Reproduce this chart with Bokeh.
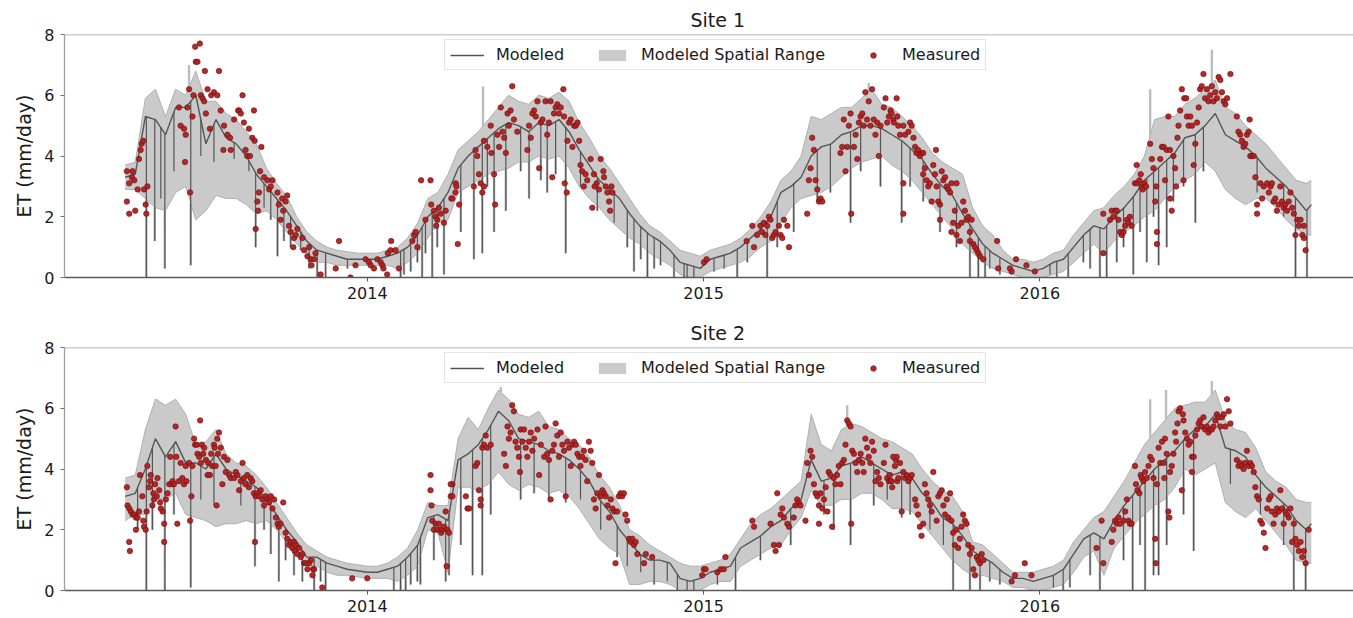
import numpy as np
from datetime import datetime, timedelta
from bokeh.plotting import figure
from bokeh.layouts import column
from bokeh.models import (Range1d, FixedTicker, DatetimeTickFormatter, Span,
                          Legend, LegendItem)
from bokeh.embed import file_html
from bokeh.resources import INLINE

# ---------------- data (decimal years / ET in mm/day) ----------------
X_START = 2013.0996
X_END = 2016.930
year_ticks = [2014, 2015, 2016]
y_ticks = [0, 2, 4, 6, 8]
titles = ["Site 1", "Site 2"]

tg = [2013.28, 2013.31, 2013.34, 2013.37, 2013.40, 2013.43, 2013.46, 2013.49, 2013.52, 2013.55,
      2013.58, 2013.61, 2013.64, 2013.67, 2013.70, 2013.73, 2013.76, 2013.79, 2013.82, 2013.85,
      2013.88, 2013.91, 2013.94, 2013.97,
      2014.00, 2014.03, 2014.06, 2014.09, 2014.12, 2014.15, 2014.18, 2014.21, 2014.24, 2014.27,
      2014.30, 2014.33, 2014.36, 2014.39, 2014.42, 2014.45, 2014.48, 2014.51, 2014.54, 2014.57,
      2014.60, 2014.63, 2014.66, 2014.69, 2014.72, 2014.75, 2014.78, 2014.81, 2014.84, 2014.87,
      2014.90, 2014.93, 2014.96, 2014.99,
      2015.02, 2015.05, 2015.08, 2015.11, 2015.14, 2015.17, 2015.20, 2015.23, 2015.26, 2015.29,
      2015.32, 2015.35, 2015.38, 2015.41, 2015.44, 2015.47, 2015.50, 2015.53, 2015.56, 2015.59,
      2015.62, 2015.65, 2015.68, 2015.71, 2015.74, 2015.77, 2015.80, 2015.83, 2015.86, 2015.89,
      2015.92, 2015.95, 2015.98,
      2016.01, 2016.04, 2016.07, 2016.10, 2016.13, 2016.16, 2016.19, 2016.22, 2016.25, 2016.28,
      2016.31, 2016.34, 2016.37, 2016.40, 2016.43, 2016.46, 2016.49, 2016.52, 2016.55, 2016.58,
      2016.61, 2016.64, 2016.67, 2016.70, 2016.73, 2016.76, 2016.79, 2016.805]

# Site 1 modeled, spatial range low/high
mod1 = [3.3, 3.4, 5.3, 5.2, 4.7, 5.6, 5.6, 6.0, 4.4, 5.2, 4.6, 4.4, 4.0, 3.4, 3.0, 2.6, 2.2, 1.7, 1.2, 0.9, 0.8, 0.7, 0.6, 0.6,
        0.6, 0.6, 0.7, 0.8, 1.0, 1.4, 2.0, 2.3, 2.8, 3.6, 4.0, 4.3, 4.6, 4.9, 5.1, 5.0, 4.8, 5.1, 5.0, 5.2, 4.8, 4.2, 3.7, 3.2, 2.9, 2.6, 2.1, 1.7, 1.4, 1.2, 0.9, 0.5, 0.4, 0.3,
        0.6, 0.7, 0.8, 1.0, 1.3, 1.6, 2.0, 2.8, 3.0, 3.3, 4.0, 4.3, 4.4, 4.7, 4.8, 5.0, 5.0, 4.9, 4.7, 4.5, 4.2, 3.9, 3.4, 3.0, 2.7, 2.1, 1.6, 1.1, 0.8, 0.6, 0.4, 0.3, 0.2,
        0.3, 0.5, 0.6, 1.0, 1.4, 1.7, 1.6, 2.0, 2.3, 2.7, 3.2, 3.5, 3.8, 4.1, 4.6, 4.7, 5.0, 5.4, 4.7, 4.5, 4.3, 4.0, 3.6, 3.3, 3.0, 2.6, 2.2, 2.4]
low1 = [2.9, 2.9, 2.6, 2.3, 2.2, 2.8, 3.0, 1.9, 2.2, 2.7, 2.6, 2.6, 2.4, 2.1, 2.2, 1.9, 1.5, 1.1, 0.8, 0.5, 0.5, 0.4, 0.4, 0.4,
        0.4, 0.4, 0.4, 0.3, 0.5, 0.8, 1.3, 1.8, 1.9, 2.8, 3.0, 3.2, 3.4, 3.5, 3.6, 3.8, 3.8, 4.0, 3.9, 4.0, 3.6, 3.0, 2.6, 2.3, 1.9, 1.6, 1.3, 1.1, 0.8, 0.6, 0.4, 0.1, 0.0, 0.0,
        0.2, 0.3, 0.4, 0.5, 0.7, 1.0, 1.2, 1.8, 2.3, 2.6, 2.7, 2.8, 3.0, 3.3, 3.6, 3.8, 3.9, 4.0, 3.7, 3.5, 3.2, 2.8, 2.4, 2.0, 1.6, 1.1, 0.8, 0.5, 0.3, 0.2, 0.1, 0.0, 0.0,
        0.0, 0.1, 0.2, 0.5, 0.8, 1.1, 0.8, 1.2, 1.5, 1.7, 2.0, 2.2, 2.6, 3.0, 3.2, 3.4, 3.8, 3.5, 2.9, 2.6, 2.4, 2.6, 2.6, 2.3, 1.9, 1.6, 1.4, 1.4]
high1 = [3.7, 3.8, 5.9, 6.2, 5.3, 6.2, 6.0, 6.8, 5.8, 5.8, 5.4, 5.2, 4.8, 4.4, 3.6, 3.1, 2.7, 2.0, 1.5, 1.2, 1.0, 0.9, 0.85, 0.8,
         0.8, 0.8, 0.9, 1.0, 1.3, 1.8, 2.6, 2.8, 3.4, 4.2, 4.5, 4.8, 5.2, 5.6, 6.0, 5.8, 5.7, 6.0, 5.9, 6.1, 5.8, 5.1, 4.6, 4.0, 3.6, 3.1, 2.6, 2.1, 1.7, 1.5, 1.2, 0.9, 0.8, 0.7,
         0.9, 1.0, 1.1, 1.3, 1.6, 2.0, 2.5, 3.2, 3.5, 4.0, 5.3, 5.2, 5.4, 5.6, 5.6, 5.9, 6.2, 5.7, 5.6, 5.3, 5.0, 4.6, 4.1, 3.8, 3.6, 3.4, 2.3, 1.7, 1.4, 0.9, 0.6, 0.6, 0.5,
         0.6, 0.8, 0.9, 1.4, 1.8, 2.2, 2.3, 2.7, 3.0, 3.4, 4.0, 5.2, 5.3, 5.3, 5.7, 5.9, 6.2, 6.5, 5.6, 5.4, 5.0, 4.7, 4.4, 4.0, 3.6, 3.2, 3.1, 3.2]

# Site 2 modeled, spatial range low/high
mod2 = [3.1, 3.2, 4.0, 5.0, 4.4, 4.9, 4.2, 4.2, 4.0, 4.5, 4.0, 3.8, 3.6, 3.4, 3.0, 2.5, 2.0, 1.6, 1.1, 1.1, 0.9, 0.8, 0.7, 0.65,
        0.6, 0.6, 0.7, 0.8, 1.1, 1.5, 2.4, 2.5, 2.3, 4.3, 4.5, 4.8, 5.3, 5.9, 5.6, 5.0, 4.9, 4.8, 4.6, 4.5, 4.3, 4.0, 3.6, 3.0, 2.6, 2.0, 1.6, 1.2, 1.0, 1.0, 0.9, 0.4, 0.3, 0.4,
        0.6, 0.7, 0.8, 1.4, 1.6, 1.8, 2.1, 2.3, 2.7, 3.0, 4.3, 3.6, 3.7, 4.1, 4.2, 4.4, 4.2, 4.0, 3.8, 3.9, 3.7, 3.2, 2.9, 2.4, 2.2, 1.8, 1.3, 1.1, 0.9, 0.6, 0.4, 0.4, 0.3,
        0.4, 0.5, 0.7, 1.2, 1.7, 1.9, 1.7, 2.3, 2.8, 3.2, 3.6, 4.0, 4.3, 4.6, 5.0, 5.3, 5.4, 5.8, 4.7, 4.6, 4.4, 3.8, 3.4, 3.1, 2.8, 2.3, 2.0, 2.2]
low2 = [2.3, 2.5, 2.5, 3.0, 3.0, 3.2, 2.5, 2.4, 2.3, 2.1, 2.2, 2.2, 2.3, 2.2, 2.3, 2.0, 1.6, 1.2, 0.8, 0.8, 0.6, 0.5, 0.5, 0.45,
        0.4, 0.4, 0.4, 0.3, 0.5, 0.8, 2.0, 1.9, 0.6, 3.4, 3.4, 3.3, 3.5, 3.9, 3.5, 3.3, 3.5, 3.4, 3.2, 3.3, 3.1, 2.7, 2.2, 1.7, 1.4, 1.2, 0.2, 0.2, 0.3, 0.3, 0.2, 0.0, 0.0, 0.0,
        0.2, 0.3, 0.3, 0.8, 1.0, 1.2, 1.4, 1.5, 2.0, 2.4, 3.3, 2.8, 2.8, 3.0, 3.0, 3.2, 3.2, 3.0, 2.7, 2.7, 2.6, 2.2, 1.8, 1.4, 1.0, 0.7, 0.5, 0.5, 0.4, 0.3, 0.1, 0.1, 0.0,
        0.0, 0.1, 0.2, 0.6, 1.1, 1.3, 0.5, 1.4, 1.8, 2.2, 2.5, 2.8, 3.0, 3.4, 4.0, 3.8, 4.0, 4.2, 2.9, 2.6, 2.4, 2.7, 2.3, 1.9, 1.5, 1.0, 0.9, 0.9]
high2 = [3.7, 3.8, 5.3, 6.3, 6.1, 6.3, 5.8, 4.8, 4.9, 5.3, 4.5, 4.2, 4.1, 3.8, 3.4, 2.9, 2.4, 1.9, 1.5, 1.3, 1.1, 1.0, 0.9, 0.85,
         0.8, 0.8, 0.9, 1.1, 1.4, 2.0, 2.9, 2.8, 2.8, 5.0, 5.7, 5.3, 6.0, 6.6, 6.3, 5.8, 5.7, 5.9, 5.4, 5.3, 5.0, 4.8, 4.4, 3.8, 3.4, 2.8, 2.0, 1.8, 1.5, 1.3, 1.1, 0.9, 0.8, 0.8,
         0.9, 1.0, 1.2, 1.7, 2.2, 2.5, 2.7, 3.0, 3.3, 3.6, 5.8, 4.8, 4.6, 5.3, 5.5, 5.4, 5.2, 5.0, 4.9, 4.7, 4.5, 4.0, 3.6, 3.3, 3.1, 2.6, 1.6, 1.5, 1.2, 0.9, 0.6, 0.6, 0.6,
         0.7, 0.8, 1.0, 1.6, 2.0, 2.4, 2.6, 3.1, 3.6, 4.2, 4.8, 5.2, 5.6, 6.0, 6.1, 6.2, 6.2, 6.6, 5.6, 5.3, 5.2, 4.7, 3.9, 3.6, 3.4, 3.0, 2.9, 2.9]

# short daily dips of the modeled series (date, minimum value)
dip1_t = [2013.343, 2013.368, 2013.398, 2013.475, 2013.668, 2013.733, 2013.851, 2013.876, 2014.099, 2014.109,
          2014.163, 2014.193, 2014.228, 2014.317, 2014.342, 2014.412, 2014.481, 2014.535, 2014.590, 2014.793,
          2014.833, 2014.912, 2014.942, 2014.971, 2015.100, 2015.189, 2015.437, 2015.589, 2015.792, 2015.817,
          2015.837, 2016.084, 2016.178, 2016.198, 2016.277, 2016.317, 2016.352, 2016.461, 2016.758, 2016.792,
          2013.386, 2013.425, 2013.505, 2013.544, 2013.604, 2013.648, 2013.693, 2013.713, 2013.752, 2013.772,
          2013.802, 2013.827, 2013.941, 2014.129, 2014.149, 2014.173, 2014.208,
          2014.278, 2014.357, 2014.377, 2014.456, 2014.516, 2014.560, 2014.634, 2014.684, 2014.734, 2014.773,
          2014.813, 2014.853, 2014.872, 2014.951, 2015.031, 2015.061, 2015.130, 2015.219, 2015.268, 2015.338,
          2015.377, 2015.467, 2015.526,
          2015.614, 2015.653, 2015.703, 2015.752, 2015.851, 2015.881, 2016.030, 2016.050, 2016.129, 2016.149,
          2016.228, 2016.248, 2016.297, 2016.337, 2016.376, 2016.396, 2016.426, 2016.485, 2016.644, 2016.723]
dip1_v = [0.0, 1.2, 0.3, 0.4, 1.0, 0.7, 0.0, 0.0, 0.0, 0.1,
          0.0, 0.0, 0.1, 0.6, 0.8, 2.2, 2.6, 2.8, 0.8, 0.2,
          0.0, 0.0, 0.0, 0.0, 0.0, 0.0, 1.8, 1.8, 0.0, 0.0,
          0.0, 0.0, 0.0, 0.0, 0.1, 0.5, 0.4, 1.8, 0.0, 0.0,
          2.6, 3.5, 4.0, 3.8, 3.9, 3.5, 2.3, 1.9, 1.2, 1.0,
          0.9, 0.3, 0.3, 0.2, 0.5, 0.8, 1.0,
          1.5, 3.0, 1.5, 3.5, 3.2, 3.4, 3.0, 2.2, 1.8, 1.0,
          0.6, 0.3, 0.4, 0.0, 0.2, 0.3, 0.5, 1.0, 1.5, 2.5,
          2.8, 3.5, 3.0,
          3.0, 2.5, 1.5, 1.0, 0.3, 0.1, 0.1, 0.0, 0.5, 0.3,
          0.5, 1.0, 1.5, 2.0, 1.0, 2.5, 3.0, 3.5, 2.8, 2.0]
dip2_t = [2013.343, 2013.398, 2013.475, 2013.666, 2013.737, 2013.842, 2013.876, 2014.099, 2014.114, 2014.149,
          2014.233, 2014.313, 2014.342, 2014.540, 2014.590, 2014.743, 2014.922, 2014.951, 2015.095, 2015.437,
          2015.589, 2015.742, 2015.792, 2015.822, 2016.069, 2016.178, 2016.275, 2016.312, 2016.337, 2016.352,
          2016.456, 2016.753, 2016.788,
          2013.317, 2013.361, 2013.425, 2013.505, 2013.544, 2013.624, 2013.693, 2013.713, 2013.757, 2013.782,
          2013.807, 2013.861, 2014.079, 2014.129, 2014.158, 2014.198, 2014.243,
          2014.278, 2014.367, 2014.456, 2014.496, 2014.634, 2014.694, 2014.773, 2014.813, 2014.853, 2014.892,
          2014.971, 2015.041, 2015.169, 2015.259, 2015.358, 2015.387, 2015.506, 2015.546,
          2015.614, 2015.673, 2015.713, 2015.851, 2015.881, 2016.040, 2016.089, 2016.149, 2016.248, 2016.297,
          2016.376, 2016.426, 2016.565, 2016.654, 2016.723]
dip2_v = [0.0, 0.0, 0.1, 0.8, 0.3, 0.0, 0.0, 0.0, 0.0, 0.3,
          0.3, 0.5, 0.5, 3.0, 2.9, 1.1, 0.0, 0.0, 0.0, 1.5,
          2.4, 0.0, 0.0, 0.0, 0.0, 0.0, 0.0, 0.0, 0.5, 0.5,
          1.3, 0.0, 0.0,
          2.0, 2.0, 2.5, 3.0, 2.8, 2.8, 2.0, 1.2, 1.0, 0.5,
          0.3, 0.3, 0.0, 0.2, 0.2, 1.0, 0.5,
          1.5, 2.5, 3.0, 3.2, 3.0, 2.0, 0.8, 0.6, 0.2, 0.3,
          0.0, 0.2, 1.0, 1.5, 2.5, 2.0, 2.8, 3.0,
          2.5, 2.0, 1.5, 0.3, 0.2, 0.1, 0.1, 0.5, 1.0, 1.5,
          1.5, 2.5, 3.5, 2.5, 1.5]
# short peaks of the spatial range upper edge
peak1_t = [2013.470, 2014.344, 2015.491, 2016.327, 2016.510]
peak1_v = [7.0, 6.3, 6.4, 6.2, 7.5]
peak2_t = [2013.375, 2014.397, 2015.427, 2016.327, 2016.374, 2016.510]
peak2_v = [6.3, 6.7, 6.1, 6.3, 6.6, 6.9]

# Measured, site 1
meas1_t = [2013.285, 2013.285, 2013.292, 2013.292, 2013.300, 2013.302, 2013.307, 2013.310, 2013.317, 2013.321, 2013.326, 2013.329, 2013.334, 2013.336, 2013.341, 2013.343, 2013.346,
           2013.440, 2013.445, 2013.455, 2013.458, 2013.460, 2013.465, 2013.470, 2013.473, 2013.480, 2013.483, 2013.488, 2013.490, 2013.495, 2013.502, 2013.505, 2013.510, 2013.515, 2013.517, 2013.520, 2013.525,
           2013.532, 2013.536, 2013.544, 2013.554, 2013.559, 2013.564, 2013.572, 2013.574, 2013.584, 2013.592, 2013.594, 2013.604, 2013.616, 2013.619, 2013.624, 2013.629, 2013.633, 2013.638, 2013.643, 2013.648,
           2013.651, 2013.658, 2013.663, 2013.665, 2013.668, 2013.673, 2013.675, 2013.678, 2013.681, 2013.685, 2013.693, 2013.703, 2013.708, 2013.713, 2013.718, 2013.733, 2013.737, 2013.742, 2013.747, 2013.750,
           2013.757, 2013.762, 2013.767, 2013.772, 2013.780, 2013.782, 2013.787, 2013.792, 2013.807, 2013.812, 2013.822, 2013.827, 2013.832, 2013.834, 2013.842, 2013.846, 2013.861, 2013.906, 2013.916, 2013.950, 2013.965, 2013.995,
           2014.005, 2014.010, 2014.020, 2014.030, 2014.040, 2014.045, 2014.048, 2014.059, 2014.061, 2014.069, 2014.071, 2014.084, 2014.094, 2014.134, 2014.139, 2014.144, 2014.149, 2014.160, 2014.173, 2014.188,
           2014.190, 2014.198, 2014.203, 2014.205, 2014.208, 2014.213, 2014.218, 2014.228, 2014.233, 2014.250, 2014.253, 2014.262, 2014.263, 2014.265, 2014.269, 2014.273,
           2014.317, 2014.322, 2014.327, 2014.332, 2014.337, 2014.342, 2014.347, 2014.347, 2014.357, 2014.367, 2014.369, 2014.377, 2014.380, 2014.387, 2014.392, 2014.397, 2014.402, 2014.407, 2014.412, 2014.417,
           2014.421, 2014.426, 2014.431, 2014.436, 2014.446, 2014.476, 2014.481, 2014.486, 2014.491, 2014.496, 2014.501, 2014.506, 2014.511, 2014.516, 2014.521, 2014.530, 2014.535, 2014.540, 2014.545, 2014.550,
           2014.555, 2014.560, 2014.565, 2014.570, 2014.575, 2014.583, 2014.585, 2014.587, 2014.593, 2014.595, 2014.600, 2014.605, 2014.610, 2014.615, 2014.620, 2014.625, 2014.630, 2014.634, 2014.639, 2014.644,
           2014.649, 2014.654, 2014.664, 2014.669, 2014.674, 2014.676, 2014.682, 2014.689, 2014.694, 2014.702, 2014.704, 2014.709, 2014.714, 2014.719, 2014.722, 2014.726, 2014.729,
           2015.001, 2015.009, 2015.128, 2015.145, 2015.150, 2015.159, 2015.169, 2015.174, 2015.179, 2015.184, 2015.189, 2015.194, 2015.199, 2015.204, 2015.209, 2015.214, 2015.224, 2015.229, 2015.234, 2015.239, 2015.249, 2015.254,
           2015.308, 2015.313, 2015.318, 2015.323, 2015.328, 2015.333, 2015.338, 2015.343, 2015.348, 2015.353, 2015.407, 2015.412, 2015.417, 2015.422, 2015.427, 2015.432, 2015.437, 2015.439, 2015.447, 2015.452,
           2015.457, 2015.462, 2015.467, 2015.472, 2015.476, 2015.481, 2015.486, 2015.491, 2015.496, 2015.501, 2015.506, 2015.511, 2015.516, 2015.521, 2015.526, 2015.536, 2015.541, 2015.546, 2015.551, 2015.556,
           2015.559, 2015.564, 2015.566, 2015.574, 2015.576, 2015.579, 2015.584, 2015.594, 2015.594, 2015.594, 2015.599, 2015.609, 2015.614, 2015.619, 2015.624, 2015.629, 2015.633, 2015.638, 2015.643, 2015.648,
           2015.653, 2015.653, 2015.658, 2015.663, 2015.668, 2015.673, 2015.678, 2015.683, 2015.688, 2015.691, 2015.693, 2015.698, 2015.703, 2015.703, 2015.708, 2015.713, 2015.718, 2015.723, 2015.728, 2015.733,
           2015.737, 2015.737, 2015.742, 2015.747, 2015.752, 2015.752, 2015.757, 2015.762, 2015.767, 2015.772, 2015.777, 2015.782, 2015.787, 2015.792, 2015.792, 2015.797, 2015.802, 2015.807, 2015.812, 2015.817,
           2015.822, 2015.832, 2015.873, 2015.876, 2015.911, 2015.916, 2015.929, 2015.960, 2015.985,
           2016.188, 2016.188, 2016.208, 2016.213, 2016.218, 2016.223, 2016.228, 2016.233, 2016.238, 2016.243, 2016.248, 2016.253, 2016.258, 2016.263, 2016.267, 2016.272, 2016.282, 2016.287, 2016.289, 2016.295,
           2016.299, 2016.302, 2016.305, 2016.309, 2016.315, 2016.327, 2016.332, 2016.337, 2016.342, 2016.345, 2016.347, 2016.347, 2016.357, 2016.362, 2016.367, 2016.371, 2016.376, 2016.381, 2016.386, 2016.386,
           2016.391, 2016.396, 2016.401, 2016.404, 2016.408, 2016.411, 2016.416, 2016.421, 2016.426, 2016.428, 2016.434, 2016.436, 2016.441, 2016.446, 2016.451, 2016.456, 2016.461, 2016.466, 2016.471, 2016.475,
           2016.480, 2016.485, 2016.490, 2016.495, 2016.500, 2016.505, 2016.510, 2016.515, 2016.520, 2016.525, 2016.530, 2016.535, 2016.540, 2016.545, 2016.550, 2016.555, 2016.565, 2016.584, 2016.589, 2016.594,
           2016.599, 2016.604, 2016.609, 2016.614, 2016.619, 2016.622, 2016.624, 2016.629, 2016.634, 2016.639, 2016.644, 2016.644, 2016.654, 2016.659, 2016.664, 2016.674, 2016.679, 2016.684, 2016.688, 2016.693,
           2016.698, 2016.703, 2016.708, 2016.713, 2016.718, 2016.723, 2016.728, 2016.733, 2016.738, 2016.743, 2016.748, 2016.753, 2016.758, 2016.763, 2016.768, 2016.773, 2016.778, 2016.783, 2016.783, 2016.788]
meas1_v = [3.5, 2.5, 3.1, 2.1, 3.3, 3.5, 3.2, 2.2, 2.9, 3.9, 4.2, 4.4, 4.5, 2.9, 2.4, 2.1, 3.0,
           5.6, 5.0, 4.9, 3.8, 4.7, 5.6, 6.2, 2.8, 5.3, 6.0, 7.6, 7.1, 7.1, 7.7, 6.0, 5.9, 5.8, 6.8, 5.4, 6.2,
           4.9, 6.0, 6.1, 6.0, 6.8, 5.5, 4.2, 5.0, 4.7, 4.6, 4.2, 5.2, 5.5, 5.5, 5.4, 6.0, 5.1, 4.2, 4.0, 4.9,
           4.0, 4.6, 5.5, 4.5, 1.6, 2.5, 2.2, 2.8, 3.5, 4.3, 3.3, 3.2, 2.9, 3.0, 3.2, 2.8, 2.4, 1.9, 2.6, 2.2,
           2.5, 2.7, 1.7, 1.5, 1.0, 1.3, 1.4, 1.6, 1.3, 0.9, 0.7, 1.0, 0.6, 0.4, 0.6, 0.8, 0.1, 0.3, 1.2, 0.0, 0.4, 0.6,
           0.5, 0.4, 0.3, 0.6, 0.5, 0.4, 0.3, 0.1, 0.8, 0.9, 1.2, 0.9, 0.3, 1.2, 1.4, 1.5, 1.0, 3.2, 1.9, 3.2,
           2.4, 2.2, 2.0, 1.7, 1.9, 2.3, 2.1, 1.8, 2.2, 2.6, 2.6, 2.8, 3.1, 3.0, 1.1, 2.4,
           3.0, 4.2, 4.0, 3.4, 3.1, 2.8, 4.5, 3.0, 4.3, 5.0, 4.1, 3.4, 2.4, 4.7, 4.3, 5.6, 4.8, 4.6, 4.1, 5.4,
           5.0, 5.5, 6.3, 5.2, 4.8, 4.2, 5.0, 4.6, 5.4, 5.5, 5.3, 5.8, 3.6, 5.1, 5.2, 5.8, 4.7, 5.1, 5.8, 3.3,
           5.4, 5.6, 5.7, 5.4, 5.6, 6.2, 5.3, 3.1, 2.8, 4.5, 5.1, 5.2, 4.3, 5.0, 5.0, 5.1, 4.5, 3.7, 3.5, 3.0,
           3.4, 3.2, 3.9, 2.3, 3.4, 3.0, 3.1, 2.9, 3.9, 3.5, 3.3, 3.0, 2.8, 2.5, 2.2, 3.0, 2.8,
           0.5, 0.6, 1.2, 1.7, 1.0, 1.4, 1.7, 1.5, 1.8, 1.4, 1.7, 2.0, 1.9, 1.3, 1.4, 1.5, 1.7, 1.4, 1.3, 1.9, 1.7, 1.0,
           2.1, 3.2, 3.6, 4.6, 4.2, 3.2, 2.9, 2.5, 2.6, 2.5, 4.1, 4.3, 5.2, 3.5, 4.3, 5.0, 5.4, 2.1, 4.3, 4.7,
           3.9, 5.1, 5.3, 5.4, 5.0, 6.1, 5.2, 5.8, 5.0, 6.2, 5.2, 4.7, 5.1, 4.0, 5.0, 5.6, 5.9, 5.1, 5.3, 5.5,
           5.4, 5.2, 5.1, 5.9, 5.3, 5.0, 4.7, 5.0, 3.1, 2.1, 4.7, 4.8, 5.1, 5.0, 4.6, 4.3, 4.1, 4.2, 4.0, 4.1,
           4.1, 3.4, 3.6, 3.2, 3.0, 3.1, 2.5, 3.7, 3.4, 4.2, 3.0, 2.5, 2.4, 1.9, 3.5, 3.2, 3.3, 3.0, 2.9, 2.8,
           3.1, 1.5, 1.8, 2.2, 3.1, 1.4, 1.7, 1.2, 1.8, 2.5, 2.2, 1.9, 2.0, 1.5, 1.2, 1.9, 1.1, 1.0, 0.9, 0.8,
           0.7, 0.6, 1.2, 0.3, 0.3, 0.2, 0.6, 0.4, 0.2,
           2.1, 0.8, 1.9, 2.2, 2.0, 2.2, 2.2, 1.9, 1.5, 1.4, 1.5, 1.7, 1.9, 1.8, 2.0, 1.7, 3.1, 3.7, 3.1, 3.2,
           3.4, 3.0, 2.9, 3.1, 3.0, 4.4, 3.9, 3.6, 2.5, 3.0, 1.5, 1.1, 3.9, 4.3, 4.3, 3.2, 4.2, 5.3, 4.2, 2.6,
           2.2, 4.0, 3.6, 3.0, 4.6, 5.0, 5.5, 6.2, 3.2, 5.9, 5.9, 5.3, 5.0, 5.3, 5.0, 3.7, 4.4, 5.1, 5.6, 6.2,
           6.3, 6.7, 5.9, 6.2, 5.8, 6.0, 6.3, 5.8, 6.1, 5.9, 6.6, 6.5, 6.1, 5.8, 5.7, 5.9, 6.7, 5.3, 4.8, 4.7,
           4.5, 4.3, 4.4, 4.7, 4.8, 5.2, 4.0, 4.0, 4.0, 3.3, 2.1, 2.4, 3.1, 2.6, 3.0, 3.1, 2.8, 3.0, 3.1, 2.5,
           2.6, 2.2, 2.4, 3.0, 2.5, 2.3, 2.4, 2.2, 2.5, 2.8, 2.3, 2.1, 1.4, 1.9, 1.7, 1.9, 1.4, 1.7, 1.3, 0.9]

# Measured, site 2
meas2_t = [2013.285, 2013.287, 2013.292, 2013.292, 2013.294, 2013.297, 2013.302, 2013.307, 2013.312, 2013.312, 2013.317, 2013.321, 2013.324, 2013.331, 2013.334, 2013.336, 2013.341, 2013.344, 2013.346, 2013.351,
           2013.354, 2013.356, 2013.361, 2013.364, 2013.366, 2013.369, 2013.374, 2013.376, 2013.381, 2013.384, 2013.386, 2013.391, 2013.396, 2013.396, 2013.401, 2013.406, 2013.411, 2013.414, 2013.418, 2013.421,
           2013.425, 2013.430, 2013.432, 2013.435, 2013.440, 2013.445, 2013.450, 2013.455, 2013.460, 2013.462, 2013.470, 2013.473, 2013.477, 2013.480, 2013.485, 2013.488, 2013.493, 2013.495, 2013.500, 2013.503,
           2013.505, 2013.508, 2013.512, 2013.515, 2013.520, 2013.525, 2013.527, 2013.532, 2013.536, 2013.539, 2013.544, 2013.546, 2013.549, 2013.552, 2013.554, 2013.556, 2013.559, 2013.564, 2013.569, 2013.574,
           2013.579, 2013.584, 2013.589, 2013.594, 2013.604, 2013.609, 2013.614, 2013.619, 2013.624, 2013.629, 2013.633, 2013.638, 2013.643, 2013.648, 2013.653, 2013.658, 2013.663, 2013.666, 2013.668, 2013.673,
           2013.678, 2013.683, 2013.688, 2013.693, 2013.698, 2013.703, 2013.708, 2013.713, 2013.718, 2013.723, 2013.728, 2013.733, 2013.737, 2013.742, 2013.750, 2013.757, 2013.762, 2013.767, 2013.772, 2013.777,
           2013.782, 2013.784, 2013.787, 2013.792, 2013.797, 2013.802, 2013.807, 2013.812, 2013.817, 2013.822, 2013.827, 2013.832, 2013.837, 2013.839, 2013.842, 2013.866, 2013.955, 2014.000,
           2014.188, 2014.188, 2014.191, 2014.193, 2014.198, 2014.203, 2014.208, 2014.213, 2014.218, 2014.220, 2014.223, 2014.228, 2014.233, 2014.236, 2014.238, 2014.243, 2014.248, 2014.253, 2014.248, 2014.253,
           2014.293, 2014.298, 2014.303, 2014.322, 2014.327, 2014.332, 2014.337, 2014.337, 2014.342, 2014.347, 2014.352, 2014.357, 2014.367, 2014.407, 2014.412, 2014.417, 2014.421, 2014.426, 2014.431, 2014.436,
           2014.441, 2014.446, 2014.451, 2014.454, 2014.456, 2014.461, 2014.466, 2014.471, 2014.476, 2014.481, 2014.486, 2014.491, 2014.496, 2014.506, 2014.511, 2014.516, 2014.526, 2014.530, 2014.535, 2014.540,
           2014.545, 2014.550, 2014.555, 2014.560, 2014.565, 2014.570, 2014.575, 2014.580, 2014.585, 2014.590, 2014.595, 2014.600, 2014.605, 2014.610, 2014.615, 2014.620, 2014.625, 2014.630, 2014.634, 2014.639,
           2014.644, 2014.649, 2014.654, 2014.659, 2014.664, 2014.669, 2014.674, 2014.679, 2014.684, 2014.689, 2014.694, 2014.699, 2014.704, 2014.709, 2014.714, 2014.719, 2014.724, 2014.729, 2014.734, 2014.738,
           2014.743, 2014.748, 2014.753, 2014.758, 2014.763, 2014.768, 2014.773, 2014.778, 2014.783, 2014.788, 2014.793, 2014.798, 2014.803, 2014.823, 2014.828, 2014.847, 2014.996,
           2015.001, 2015.006, 2015.041, 2015.051, 2015.060, 2015.065, 2015.145, 2015.150, 2015.199, 2015.209, 2015.214, 2015.219, 2015.224, 2015.229, 2015.234, 2015.239, 2015.249, 2015.254, 2015.268, 2015.273,
           2015.278, 2015.283, 2015.288, 2015.303, 2015.308, 2015.313, 2015.318, 2015.323, 2015.328, 2015.333, 2015.338, 2015.343, 2015.343, 2015.348, 2015.353, 2015.358, 2015.363, 2015.368, 2015.372, 2015.377,
           2015.382, 2015.387, 2015.392, 2015.397, 2015.402, 2015.407, 2015.412, 2015.417, 2015.422, 2015.427, 2015.432, 2015.437, 2015.439, 2015.442, 2015.447, 2015.452, 2015.457, 2015.462, 2015.467, 2015.472,
           2015.476, 2015.481, 2015.486, 2015.491, 2015.496, 2015.501, 2015.506, 2015.511, 2015.516, 2015.521, 2015.526, 2015.536, 2015.541, 2015.546, 2015.551, 2015.556, 2015.561, 2015.571, 2015.576,
           2015.554, 2015.559, 2015.564, 2015.569, 2015.574, 2015.579, 2015.584, 2015.589, 2015.594, 2015.599, 2015.604, 2015.609, 2015.614, 2015.619, 2015.629, 2015.633, 2015.638, 2015.643, 2015.648, 2015.653,
           2015.658, 2015.663, 2015.668, 2015.673, 2015.678, 2015.683, 2015.693, 2015.698, 2015.703, 2015.708, 2015.713, 2015.718, 2015.723, 2015.728, 2015.733, 2015.737, 2015.742, 2015.747, 2015.752, 2015.757,
           2015.762, 2015.767, 2015.772, 2015.777, 2015.782, 2015.787, 2015.792, 2015.797, 2015.802, 2015.807, 2015.812, 2015.817, 2015.822, 2015.827, 2015.832, 2015.916, 2015.926, 2015.955, 2015.975,
           2016.168, 2016.183, 2016.188, 2016.213, 2016.218, 2016.223, 2016.228, 2016.233, 2016.238, 2016.248, 2016.253, 2016.258, 2016.263, 2016.267, 2016.272, 2016.282, 2016.285, 2016.289, 2016.295, 2016.299,
           2016.302, 2016.307, 2016.312, 2016.317, 2016.322, 2016.327, 2016.332, 2016.337, 2016.342, 2016.344, 2016.347, 2016.352, 2016.357, 2016.362, 2016.367, 2016.369, 2016.371, 2016.376, 2016.381, 2016.384,
           2016.386, 2016.391, 2016.396, 2016.401, 2016.404, 2016.408, 2016.411, 2016.416, 2016.421, 2016.424, 2016.426, 2016.431, 2016.436, 2016.441, 2016.446, 2016.451, 2016.451, 2016.456, 2016.461, 2016.466,
           2016.471, 2016.475, 2016.480, 2016.485, 2016.490, 2016.495, 2016.500, 2016.505, 2016.510, 2016.515, 2016.520, 2016.525, 2016.530, 2016.535, 2016.540, 2016.545, 2016.550, 2016.555, 2016.560, 2016.565,
           2016.584, 2016.589, 2016.594, 2016.599, 2016.604, 2016.609, 2016.614, 2016.619, 2016.624, 2016.629, 2016.634, 2016.639, 2016.644, 2016.649, 2016.654, 2016.659, 2016.664, 2016.669, 2016.674, 2016.679,
           2016.684, 2016.688, 2016.693, 2016.698, 2016.703, 2016.708, 2016.713, 2016.718, 2016.723, 2016.728, 2016.733, 2016.738, 2016.743, 2016.748, 2016.753, 2016.758, 2016.763, 2016.768, 2016.773, 2016.778, 2016.783, 2016.788, 2016.797]
meas2_v = [3.4, 2.8, 2.7, 1.6, 1.3, 2.6, 2.5, 2.5, 2.4, 2.0, 2.4, 2.6, 3.8, 3.1, 2.3, 2.1, 2.0, 2.6, 4.1, 3.4,
           3.6, 3.8, 2.8, 3.2, 3.0, 3.5, 3.1, 3.7, 3.3, 2.9, 2.7, 2.6, 1.6, 2.2, 3.0, 3.2, 3.5, 4.4, 3.5, 3.6,
           3.5, 5.4, 4.4, 2.2, 3.6, 4.2, 3.7, 3.5, 4.1, 3.6, 4.2, 2.3, 3.1, 4.1, 5.0, 4.8, 4.8, 4.5, 4.4, 5.6,
           4.2, 4.8, 4.5, 4.7, 4.3, 3.8, 4.2, 3.8, 4.5, 4.1, 4.8, 4.7, 4.1, 2.8, 5.0, 4.5, 5.2, 4.7, 3.5, 4.4,
           3.9, 4.3, 3.8, 3.7, 3.7, 3.9, 3.8, 3.3, 3.6, 4.2, 3.7, 3.5, 3.8, 3.4, 3.7, 3.6, 3.2, 1.6, 3.1, 3.2,
           3.1, 3.3, 3.0, 2.8, 3.1, 3.0, 2.9, 3.1, 2.7, 3.0, 2.4, 2.2, 2.1, 2.2, 2.9, 1.9, 1.7, 1.5, 1.6, 1.4,
           1.6, 1.3, 1.5, 1.2, 1.4, 1.1, 1.2, 0.9, 0.9, 0.7, 0.9, 1.0, 0.5, 0.7, 0.7, 0.1, 0.4, 0.4,
           3.8, 3.3, 2.8, 2.3, 2.0, 2.2, 2.0, 2.2, 2.0, 1.9, 2.0, 2.1, 2.6, 0.8, 2.0, 1.9, 3.1, 3.5, 3.5, 3.1,
           3.1, 2.7, 2.7, 4.1, 4.2, 3.3, 3.0, 2.8, 4.7, 4.8, 5.1, 4.7, 4.8, 4.5, 4.1, 5.4, 5.0, 5.2, 6.1, 5.9,
           4.9, 4.7, 4.4, 3.9, 5.3, 4.9, 5.3, 4.7, 4.4, 4.9, 5.2, 4.6, 5.0, 5.3, 3.8, 4.8, 4.4, 5.4, 4.5, 4.3,
           3.0, 4.6, 4.8, 5.5, 5.1, 4.4, 5.2, 4.8, 4.6, 3.1, 4.9, 4.7, 4.1, 4.8, 4.9, 4.8, 4.5, 4.4, 4.1, 4.4,
           4.6, 4.3, 3.6, 4.9, 4.6, 4.2, 3.0, 2.7, 3.2, 3.8, 3.1, 3.3, 3.2, 3.1, 2.8, 2.4, 3.0, 2.7, 2.6, 0.9,
           2.6, 3.1, 3.2, 3.1, 3.2, 2.5, 2.3, 1.7, 1.6, 1.7, 1.5, 1.6, 1.2, 0.9, 1.2, 1.1, 0.5,
           0.7, 0.7, 0.6, 0.7, 0.7, 1.1, 2.3, 2.1, 2.2, 1.5, 1.3, 3.2, 1.5, 2.5, 2.7, 2.4, 2.2, 2.1, 2.4, 2.8,
           3.0, 2.9, 2.8, 2.3, 4.2, 3.8, 4.6, 4.4, 3.5, 3.2, 3.1, 2.8, 2.2, 3.2, 2.7, 3.0, 3.4, 2.6, 3.9, 3.8,
           2.1, 3.7, 3.5, 3.8, 4.1, 3.5, 4.2, 4.3, 4.8, 5.6, 5.5, 5.4, 2.2, 4.6, 4.5, 4.2, 3.9, 4.3, 4.5, 4.2,
           3.9, 5.0, 4.7, 4.4, 4.2, 4.9, 4.6, 3.6, 3.9, 3.7, 3.5, 4.2, 4.8, 3.7, 3.6, 3.6, 3.4, 4.3, 3.6,
           3.8, 3.6, 4.4, 4.1, 4.4, 3.7, 4.2, 2.6, 3.9, 3.7, 3.8, 3.6, 3.7, 3.8, 3.0, 2.8, 2.5, 2.1, 1.8, 2.2,
           3.5, 3.2, 3.0, 2.8, 2.6, 3.9, 2.3, 3.1, 3.2, 3.3, 2.8, 2.5, 3.0, 2.4, 3.2, 2.3, 1.9, 1.5, 2.0, 1.4,
           1.7, 2.1, 2.5, 2.3, 2.2, 1.5, 1.2, 1.4, 0.7, 0.5, 1.1, 1.0, 0.9, 1.2, 1.0, 0.3, 0.5, 0.9, 0.5,
           1.4, 2.3, 0.9, 1.6, 2.0, 2.3, 2.2, 2.4, 2.2, 2.3, 2.6, 3.0, 2.3, 2.2, 2.2, 4.1, 3.5, 3.3, 3.2, 3.8,
           3.7, 3.6, 3.9, 3.7, 4.1, 4.4, 4.3, 3.7, 1.7, 0.9, 3.5, 4.7, 4.2, 4.9, 4.2, 3.7, 5.0, 4.5, 2.6, 2.4,
           3.9, 4.1, 4.5, 5.2, 4.9, 5.5, 5.9, 6.0, 3.3, 5.8, 5.6, 5.2, 5.0, 4.8, 4.9, 4.4, 3.9, 4.4, 5.1, 5.3,
           5.5, 5.6, 5.4, 5.7, 5.3, 5.4, 5.2, 5.3, 5.3, 5.4, 5.6, 5.8, 5.7, 5.4, 5.7, 5.8, 5.4, 6.3, 5.9, 5.5,
           4.3, 4.1, 4.2, 4.1, 4.0, 4.2, 4.6, 4.1, 4.2, 4.1, 3.9, 3.4, 3.1, 3.0, 2.3, 2.2, 1.9, 1.4, 2.7, 3.0,
           3.1, 2.6, 2.2, 2.5, 2.7, 2.6, 3.3, 2.7, 2.2, 2.6, 2.5, 2.4, 2.7, 1.6, 2.2, 1.7, 1.5, 1.3, 1.6, 1.1, 1.3, 0.9, 2.0]

sites = [
    dict(title=titles[0], mod=mod1, low=low1, high=high1, dip_t=dip1_t, dip_v=dip1_v,
         peak_t=peak1_t, peak_v=peak1_v, meas_t=meas1_t, meas_v=meas1_v),
    dict(title=titles[1], mod=mod2, low=low2, high=high2, dip_t=dip2_t, dip_v=dip2_v,
         peak_t=peak2_t, peak_v=peak2_v, meas_t=meas2_t, meas_v=meas2_v),
]

# ---------------- helpers ----------------
def to_dt(y):
    yi = int(np.floor(y))
    n = 366 if yi % 4 == 0 else 365
    return datetime(yi, 1, 1) + timedelta(days=(y - yi) * n)

def dts(arr):
    return [to_dt(v) for v in arr]

def ms(d):
    return (d - datetime(1970, 1, 1)).total_seconds() * 1000.0

FONT = "DejaVu Sans"
TXT = "#1a1a1a"
LINE_C = "#555555"
BAND_C = "#cacaca"
BAND_EDGE = "#a9a9a9"
MEAS_FILL = "#b01e1e"
MEAS_LINE = "#6e1010"


def make_panel(s, top, bottom):
    p = figure(frame_width=1289, frame_height=243,
               min_border_left=64, min_border_right=0,
               min_border_top=top, min_border_bottom=bottom,
               x_axis_type="datetime",
               x_range=Range1d(to_dt(X_START), to_dt(X_END)),
               y_range=Range1d(0, 8),
               output_backend="svg", toolbar_location=None,
               title=s["title"])
    p.title.align = "left"
    p.title.offset = 626
    p.title.text_font = FONT
    p.title.text_font_size = "19px"
    p.title.text_font_style = "normal"
    p.title.text_color = TXT
    p.title.standoff = 8

    p.outline_line_color = None
    p.xgrid.visible = False
    p.ygrid.visible = False
    p.background_fill_color = "white"
    p.border_fill_color = "white"

    xa = p.xaxis[0]
    xa.ticker = FixedTicker(ticks=[ms(datetime(y, 1, 1)) for y in year_ticks])
    xa.formatter = DatetimeTickFormatter(years="%Y", months="%Y", days="%Y",
                                         hours="%Y", minutes="%Y", seconds="%Y",
                                         milliseconds="%Y", microseconds="%Y")
    xa.axis_line_color = "#5a5a5a"
    xa.axis_line_width = 1.3
    xa.major_tick_line_color = "#5a5a5a"
    xa.major_tick_out = 4
    xa.major_tick_in = 0
    xa.minor_tick_out = 0
    xa.minor_tick_in = 0
    xa.major_label_text_font = FONT
    xa.major_label_text_font_size = "16px"
    xa.major_label_text_color = TXT
    xa.major_label_standoff = 5

    ya = p.yaxis[0]
    ya.ticker = FixedTicker(ticks=y_ticks)
    ya.axis_line_color = "#a0a0a0"
    ya.axis_line_width = 1.3
    ya.major_tick_line_color = "#707070"
    ya.major_tick_out = 4
    ya.major_tick_in = 0
    ya.minor_tick_out = 0
    ya.minor_tick_in = 0
    ya.major_label_text_font = FONT
    ya.major_label_text_font_size = "16px"
    ya.major_label_text_color = TXT
    ya.major_label_standoff = 6
    ya.axis_label = "ET (mm/day)"
    ya.axis_label_text_font = FONT
    ya.axis_label_text_font_size = "19px"
    ya.axis_label_text_font_style = "normal"
    ya.axis_label_text_color = TXT
    ya.axis_label_standoff = 6

    p.add_layout(Span(location=8, dimension="width", line_color="#a0a0a0", line_width=1.3))

    x = dts(tg)
    band = p.varea(x=x, y1=s["low"], y2=s["high"], fill_color=BAND_C, fill_alpha=1.0)
    p.line(x, s["low"], line_color=BAND_EDGE, line_width=0.9)
    p.line(x, s["high"], line_color=BAND_EDGE, line_width=0.9)

    dx = dts(s["dip_t"])
    low_at = np.interp(s["dip_t"], tg, s["low"])
    mod_at = np.interp(s["dip_t"], tg, s["mod"])
    band_bottom = np.minimum(low_at, s["dip_v"])
    p.segment(x0=dx, y0=list(low_at), x1=dx, y1=list(band_bottom),
              line_color="#b4b4b4", line_width=2.4)

    px = dts(s["peak_t"])
    hi_at = np.interp(s["peak_t"], tg, s["high"])
    p.segment(x0=px, y0=list(hi_at), x1=px, y1=s["peak_v"], line_color="#bdbdbd", line_width=2.4)

    line = p.line(x, s["mod"], line_color=LINE_C, line_width=1.4)
    p.segment(x0=dx, y0=list(mod_at), x1=dx, y1=s["dip_v"], line_color=LINE_C, line_width=1.2)

    n = min(len(s["meas_t"]), len(s["meas_v"]))
    sc = p.scatter(dts(s["meas_t"][:n]), s["meas_v"][:n], size=5.5,
                   fill_color=MEAS_FILL, line_color=MEAS_LINE, line_width=0.6, fill_alpha=0.95)

    leg = Legend(items=[LegendItem(label="Modeled", renderers=[line]),
                        LegendItem(label="Modeled Spatial Range", renderers=[band]),
                        LegendItem(label="Measured", renderers=[sc])],
                 orientation="horizontal", location=(380, 207),
                 label_text_font=FONT, label_text_font_size="16px", label_text_color=TXT,
                 glyph_width=34, glyph_height=14, label_height=18, label_standoff=12,
                 spacing=31, padding=5, margin=0,
                 border_line_color="#cccccc", border_line_width=1,
                 background_fill_color="white", background_fill_alpha=0.9)
    p.add_layout(leg, "center")
    return p


p1 = make_panel(sites[0], top=34, bottom=33)
p2 = make_panel(sites[1], top=37, bottom=28)
layout = column(p1, p2, spacing=0)

open("out.html", "w").write(file_html(layout, INLINE))
